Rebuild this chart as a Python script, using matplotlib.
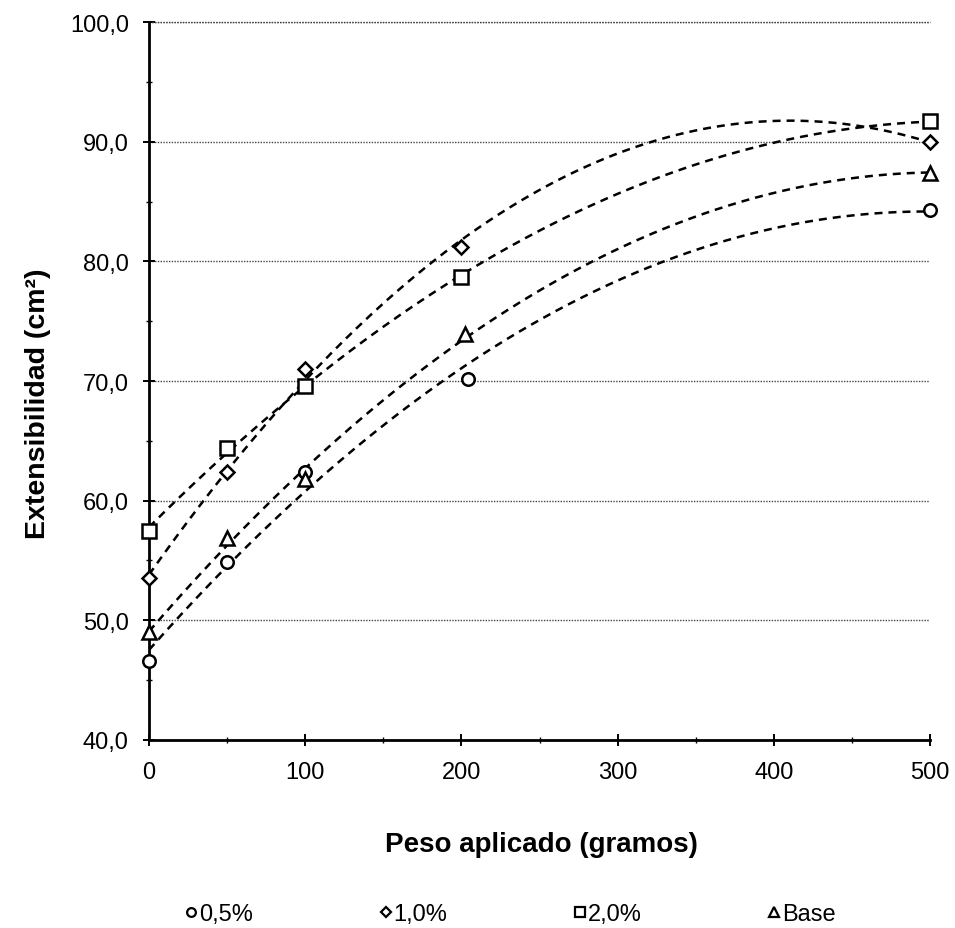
import numpy as np
import matplotlib
matplotlib.use("Agg")
import matplotlib.pyplot as plt
from matplotlib.ticker import MultipleLocator, FuncFormatter
from matplotlib.lines import Line2D

plt.rcParams['font.family'] = ['Liberation Sans', 'DejaVu Sans']

# Data
labels = ["0,5%", "1,0%", "2,0%", "Base"]
markers = ["o", "D", "s", "^"]
x_05 = [0, 50, 100, 204, 500]
y_05 = [46.6, 54.9, 62.4, 70.2, 84.3]
x_10 = [0, 50, 100, 200, 500]
y_10 = [53.5, 62.4, 71.0, 81.2, 90.0]
x_20 = [0, 50, 100, 200, 500]
y_20 = [57.5, 64.4, 69.6, 78.7, 91.7]
x_b = [0, 50, 100, 202, 500]
y_b = [49.0, 56.9, 61.8, 73.9, 87.4]
xs = [x_05, x_10, x_20, x_b]
ys = [y_05, y_10, y_20, y_b]
msizes = [9, 7.5, 10, 9.5]

fig = plt.figure(figsize=(9.55, 9.29), dpi=100)
ax = fig.add_axes([0.156, 0.2024, 0.818, 0.7728])

xx = np.linspace(0, 500, 300)
for x, y, m, ms in zip(xs, ys, markers, msizes):
    c = np.polyfit(x, y, 2)
    ax.plot(xx, np.polyval(c, xx), ls=(0, (3.2, 2.4)), color='black', lw=1.8, zorder=2)
    ax.plot(x, y, ls='none', marker=m, ms=ms, mfc='white', mec='black', mew=1.8, zorder=3,
            clip_on=False)

ax.set_xlim(0, 500)
ax.set_ylim(40, 100)
ax.xaxis.set_major_locator(MultipleLocator(100))
ax.xaxis.set_minor_locator(MultipleLocator(50))
ax.yaxis.set_major_locator(MultipleLocator(10))
ax.yaxis.set_minor_locator(MultipleLocator(5))
ax.yaxis.set_major_formatter(FuncFormatter(lambda v, p: f"{v:.1f}".replace('.', ',')))
ax.tick_params(which='major', direction='inout', length=9, width=1.4, labelsize=17)
ax.tick_params(axis='x', which='major', pad=11)
ax.tick_params(axis='y', which='major', pad=10)
ax.tick_params(which='minor', direction='inout', length=5, width=1.0)
for s in ['top', 'right']:
    ax.spines[s].set_visible(False)
for s in ['left', 'bottom']:
    ax.spines[s].set_linewidth(2.0)
ax.yaxis.grid(True, which='major', ls=(0, (1, 1)), color='#444444', lw=1.0)
ax.set_axisbelow(True)
ax.axhline(100, ls=(0, (1, 1)), color='#444444', lw=1.0, clip_on=False, zorder=1)

ax.set_xlabel("Peso aplicado (gramos)", fontsize=20, fontweight='bold', va='center')
ax.xaxis.set_label_coords(0.502, (741 - 845) / 718)
ax.set_ylabel("Extensibilidad (cm²)", fontsize=20.5, fontweight='bold', va='center')
ax.yaxis.set_label_coords((38 - 149) / 781, (741 - 404) / 718)

handles = [Line2D([], [], ls='none', marker=m, ms=ms * 0.7, mfc='white', mec='black', mew=1.6)
           for m, ms in zip(markers, msizes)]
fig.legend(handles, labels, loc='center', bbox_to_anchor=(0.535, 1 - 915 / 929), ncol=4,
           frameon=False, fontsize=17, handlelength=0.45, handletextpad=0.1,
           columnspacing=5.4, borderpad=0, borderaxespad=0)

fig.savefig("out.png", dpi=100)
